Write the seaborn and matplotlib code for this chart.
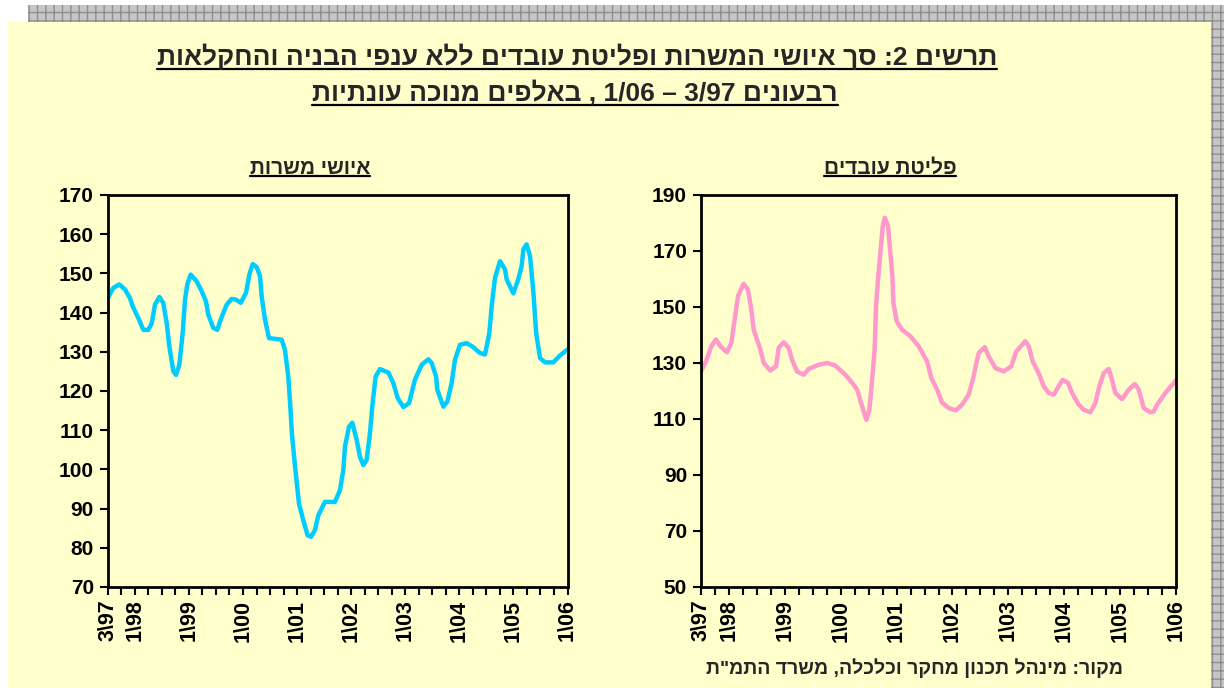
import re
import matplotlib
matplotlib.use("Agg")
import matplotlib.pyplot as plt
from matplotlib.patches import Rectangle
from matplotlib.lines import Line2D
import seaborn as sns

# x axis: quarters, 0 = 3/97 ... 34 = 1/06
n_quarters = 35
label_pos = [0, 2, 6, 10, 14, 18, 22, 26, 30, 34]
label_txt = ["3\\97", "1\\98", "1\\99", "1\\00", "1\\01",
             "1\\02", "1\\03", "1\\04", "1\\05", "1\\06"]

# jobs filled (thousands, seas. adj.)
t_jobs = [0, 0.41, 0.85, 1.27, 1.64, 1.84, 2.26, 2.63, 3.0, 3.25, 3.49, 3.81, 4.1,
          4.36, 4.55, 4.85, 5.05, 5.29, 5.54, 5.71, 5.88, 6.13, 6.57, 6.95, 7.26,
          7.43, 7.8, 8.1, 8.35, 8.79, 9.16, 9.48, 9.83, 10.22, 10.47, 10.72, 11.01,
          11.26, 11.38, 11.63, 11.92, 12.37, 12.86, 13.1, 13.35, 13.5, 13.62, 13.85,
          14.14, 14.46, 14.78, 15.03, 15.32, 15.57, 16.06, 16.8, 17.17, 17.42, 17.54,
          17.84, 18.08, 18.41, 18.65, 18.9, 19.14, 19.39, 19.56, 19.81, 20.13, 20.75,
          21.12, 21.44, 21.86, 22.28, 22.72, 23.22, 23.71, 23.96, 24.28, 24.37, 24.82,
          25.11, 25.43, 25.68, 26.05, 26.54, 27.03, 27.52, 27.9, 28.22, 28.39, 28.64,
          29.01, 29.38, 29.5, 29.99, 30.36, 30.61, 30.74, 30.98, 31.23, 31.48, 31.68,
          31.97, 32.34, 32.95, 33.4, 34.0]
jobs = [143.7, 146.3, 147.2, 145.9, 143.7, 141.6, 138.6, 135.6, 135.6, 137.3, 142.0,
        144.0, 142.5, 137.3, 131.4, 125.0, 124.1, 126.7, 134.8, 143.3, 147.2, 149.7,
        148.0, 145.4, 142.9, 139.5, 136.1, 135.6, 138.2, 142.0, 143.5, 143.3, 142.5,
        145.0, 149.7, 152.4, 151.6, 149.3, 144.1, 138.2, 133.5, 133.3, 133.1, 130.5,
        123.7, 116.0, 109.0, 100.7, 91.3, 87.0, 83.2, 82.8, 84.5, 88.3, 91.7, 91.7,
        94.7, 99.8, 105.8, 110.9, 111.9, 107.5, 103.2, 101.1, 102.4, 109.2, 116.0,
        123.7, 125.6, 124.7, 122.0, 118.2, 115.9, 116.9, 122.9, 126.7, 128.1, 127.1,
        123.7, 120.3, 116.0, 117.3, 122.0, 128.0, 131.8, 132.2, 131.2, 129.7, 129.3,
        134.8, 141.6, 148.9, 153.1, 151.0, 148.5, 144.9, 148.5, 151.9, 156.2, 157.4,
        154.4, 145.1, 134.8, 128.4, 127.3, 127.3, 128.9, 130.6]

# workers separated (thousands, seas. adj.)
t_sep = [0, 0.36, 0.74, 1.07, 1.38, 1.86, 2.17, 2.41, 2.65, 3.05, 3.36, 3.6, 3.77,
         4.25, 4.49, 4.96, 5.37, 5.56, 5.92, 6.28, 6.51, 6.87, 7.35, 7.71, 8.43, 9.02,
         9.61, 10.33, 10.81, 11.17, 11.53, 11.84, 12.05, 12.19, 12.43, 12.53, 12.67,
         12.84, 13.01, 13.15, 13.39, 13.53, 13.7, 13.77, 14.01, 14.39, 14.98, 15.58,
         16.18, 16.49, 16.9, 17.25, 17.73, 18.25, 18.68, 19.16, 19.45, 19.69, 19.88,
         20.31, 20.59, 21.07, 21.67, 22.21, 22.55, 23.21, 23.46, 23.74, 24.22, 24.53,
         24.89, 25.25, 25.6, 25.89, 26.27, 26.56, 27.04, 27.4, 27.87, 28.23, 28.51,
         28.83, 29.18, 29.42, 29.66, 30.14, 30.62, 31.05, 31.33, 31.69, 32.16, 32.41,
         32.64, 33.24, 34.0]
sep = [127.0, 130.6, 136.0, 138.4, 136.0, 133.8, 137.2, 145.5, 153.9, 158.3, 156.2,
       149.1, 141.9, 134.8, 130.0, 127.3, 128.8, 135.4, 137.4, 135.4, 131.2, 127.0,
       125.8, 127.9, 129.4, 130.0, 129.1, 125.8, 123.0, 120.5, 114.5, 109.7, 113.3,
       120.5, 134.8, 150.3, 159.8, 169.4, 178.9, 181.9, 178.9, 170.6, 161.0, 151.5,
       144.9, 141.9, 139.6, 136.0, 130.6, 124.6, 120.5, 115.9, 113.9, 113.1, 115.1,
       118.7, 124.0, 129.4, 133.6, 135.7, 132.4, 128.2, 127.0, 128.8, 134.0, 137.8,
       136.0, 130.6, 125.8, 121.7, 119.3, 118.7, 121.7, 124.0, 122.9, 119.3, 115.1,
       113.3, 112.4, 115.7, 121.7, 126.4, 127.9, 124.0, 119.3, 117.1, 120.5, 122.5,
       120.5, 113.9, 112.4, 112.7, 115.1, 119.3, 123.8]

title1 = "תרשים 2: סך איושי המשרות ופליטת עובדים ללא ענפי הבניה והחקלאות"
title2 = "רבעונים 3/97 – 1/06 , באלפים מנוכה עונתיות"
jobs_title = "איושי משרות"
sep_title = "פליטת עובדים"
source = 'מקור: מינהל תכנון מחקר וכלכלה, משרד התמ"ת'


def heb(s):
    # matplotlib has no bidi: reverse for display, keep number runs left-to-right
    r = s[::-1]
    return re.sub(r"[0-9][0-9/\\]*", lambda m: m.group(0)[::-1], r)


sns.set_style("ticks")
plt.rcParams['font.family'] = ['Liberation Sans', 'DejaVu Sans']
plt.rcParams['hatch.linewidth'] = 1.0

W, H = 1224, 688
fig = plt.figure(figsize=(W / 100, H / 100), dpi=100)
fig.patch.set_facecolor('white')

# grey patterned frame + yellow panel (behind the axes)
fig.patches.append(Rectangle((28 / W, 1 - 22 / H), 1 - 28 / W, 17 / H, transform=fig.transFigure,
                             facecolor='#c6c6c6', edgecolor='#8e8e8e', hatch='++', lw=0, zorder=-5))
fig.patches.append(Rectangle((1211 / W, 0), 13 / W, 1 - 5 / H, transform=fig.transFigure,
                             facecolor='#c6c6c6', edgecolor='#8e8e8e', hatch='++', lw=0, zorder=-5))
fig.patches.append(Rectangle((8 / W, 0), 1203 / W, 1 - 22 / H, transform=fig.transFigure,
                             facecolor='#ffffcc', edgecolor='none', zorder=-4))

ax1 = fig.add_axes([107.8 / W, 1 - 587 / H, 459.7 / W, 392 / H])
ax2 = fig.add_axes([701 / W, 1 - 587 / H, 475 / W, 392 / H])

panels = [
    (ax1, t_jobs, jobs, '#00ccff', (70, 170), 10),
    (ax2, t_sep, sep, '#ff99cc', (50, 190), 20),
]

for ax, t, v, color, ylim, step in panels:
    sns.lineplot(x=t, y=v, ax=ax, color=color, linewidth=3.2)
    ax.set_xlim(0, n_quarters - 1)
    ax.set_ylim(*ylim)
    ax.set_yticks(range(ylim[0], ylim[1] + 1, step))
    ax.set_xticks(range(n_quarters))
    xt = [''] * n_quarters
    for p, s in zip(label_pos, label_txt):
        xt[p] = s
    ax.set_xticklabels(xt)
    ax.set_xlabel('')
    ax.set_ylabel('')
    ax.set_facecolor('none')
    for sp in ax.spines.values():
        sp.set_visible(True)
        sp.set_linewidth(2)
        sp.set_color('black')
    ax.tick_params(direction='out', length=6, width=1.5, colors='black', pad=4)
    ax.tick_params(axis='y', labelsize=15)
    ax.tick_params(axis='x', labelsize=15.5, rotation=90, pad=3)
    for lab in ax.get_xticklabels() + ax.get_yticklabels():
        lab.set_fontweight('bold')

underlined = []
underlined.append(fig.text(577 / W, 1 - 57 / H, heb(title1), ha='center', va='center',
                           fontsize=19, fontweight='bold'))
underlined.append(fig.text(575 / W, 1 - 93 / H, heb(title2), ha='center', va='center',
                           fontsize=19, fontweight='bold'))
underlined.append(fig.text(310 / W, 1 - 168 / H, heb(jobs_title), ha='center', va='center',
                           fontsize=15, fontweight='bold'))
underlined.append(fig.text(890 / W, 1 - 168 / H, heb(sep_title), ha='center', va='center',
                           fontsize=15, fontweight='bold'))
fig.text(914 / W, 1 - 668 / H, heb(source), ha='center', va='center',
         fontsize=14, fontweight='bold')

# underline the titles
fig.canvas.draw()
for t in underlined:
    bb = t.get_window_extent()
    y = (bb.y0 + 1) / H
    fig.add_artist(Line2D([bb.x0 / W, bb.x1 / W], [y, y], transform=fig.transFigure,
                          color='black', lw=1.6))

fig.savefig('out.png', dpi=100)
